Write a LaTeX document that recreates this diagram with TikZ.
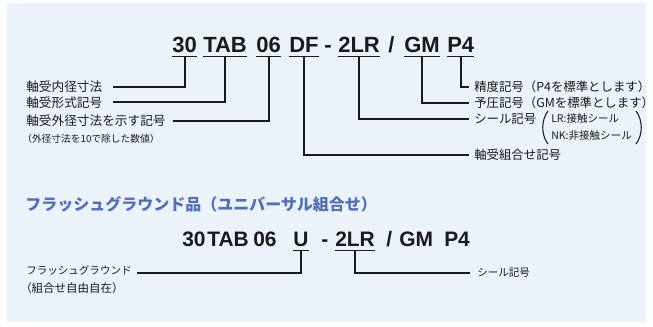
\documentclass[tikz,border=0pt]{standalone}
\usepackage{fontspec}
\setmainfont{Noto Sans CJK JP}
\newfontfamily\codefont{Liberation Sans}
\definecolor{bgc}{HTML}{EBF2FA}
\definecolor{titc}{HTML}{5470B4}
\definecolor{txt}{HTML}{1A1A1A}
\begin{document}
\begin{tikzpicture}[x=0.75pt,y=-0.75pt,
  codetok/.style={font=\codefont\bfseries\fontsize{16.5}{18}\selectfont, inner sep=0pt, anchor=base west, text=txt},
  codetokb/.style={font=\codefont\bfseries\fontsize{15.7}{18}\selectfont, inner sep=0pt, anchor=base west, text=txt},
  labtxt/.style={font=\fontsize{9.5}{11}\selectfont, inner sep=0pt, anchor=west, text=txt},
  rlabtxt/.style={font=\fontsize{9.3}{11}\selectfont, inner sep=0pt, anchor=west, text=txt},
  notetxt/.style={font=\fontsize{7.3}{8}\selectfont, inner sep=0pt, anchor=west, text=txt},
  smalltxt/.style={font=\fontsize{7.9}{9}\selectfont, inner sep=0pt, anchor=west, text=txt},
  smalltxtb/.style={font=\fontsize{8.6}{10}\selectfont, inner sep=0pt, anchor=west, text=txt},
  sealtxt/.style={font=\fontsize{7.9}{9}\selectfont, inner sep=0pt, anchor=west, text=txt},
  titletxt/.style={font=\bfseries\fontsize{12}{13}\selectfont, inner sep=0pt, anchor=west, text=titc},
  ulinestyle/.style={line width=1.1pt, draw=txt},
  connline/.style={line width=1.5pt, draw=txt},
  parenline/.style={line width=0.8pt, draw=txt}]
\useasboundingbox (0,0) rectangle (653,327);
\fill[bgc] (7,3) rectangle (646,322);

% ---------- first code line ----------
\node[codetok] (c30)  at (172,52.5) {30};
\node[codetok] (cTAB) at (203,52.5) {TAB};
\node[codetok] (c06)  at (256,52.5) {06};
\node[codetok] (cDF)  at (289,52.5) {DF};
\node[codetok] (cdash) at (324,52.5) {-};
\node[codetok] (c2LR) at (338,52.5) {2LR};
\node[codetok] (cslash) at (388,52.5) {/};
\node[codetok] (cGM)  at (404,52.5) {GM};
\node[codetok] (cP4)  at (447,52.5) {P4};

\coordinate (ula) at (0,56.5);
\foreach \n in {c30,cTAB,c06,cDF,c2LR,cGM,cP4}
  \draw[ulinestyle] (\n.west |- ula) -- (\n.east |- ula);

% labels left
\node[labtxt] (l1) at (26,87) {軸受内径寸法};
\node[labtxt] (l2) at (26,102.5) {軸受形式記号};
\node[labtxt] (l3) at (26,121) {軸受外径寸法を示す記号};
\node[notetxt] (l3n) at (22,139) {（外径寸法を10で除した数値）};

% labels right
\node[rlabtxt] (r1) at (474,87) {精度記号（P4を標準とします）};
\node[rlabtxt] (r2) at (474,103) {予圧記号（GMを標準とします）};
\node[rlabtxt] (r3) at (474,119) {シール記号};
\node[sealtxt] (r3a) at (551,119) {LR:接触シール};
\node[sealtxt] (r3b) at (551,136) {NK:非接触シール};
\node[rlabtxt] (r4) at (474,155) {軸受組合せ記号};

\draw[parenline] (548,111) .. controls (541,120) and (541,135) .. (548,144);
\draw[parenline] (636,111) .. controls (643,120) and (643,135) .. (636,144);

\coordinate (e1) at (113,87);
\coordinate (e2) at (113,102.5);
\coordinate (e3) at (173,121);
\coordinate (e4) at (469,155);
\coordinate (e5) at (469,119);
\coordinate (e6) at (469,103);
\coordinate (e7) at (469,87);

\draw[connline] (c30.south |- ula) |- (e1);
\draw[connline] (cTAB.south |- ula) |- (e2);
\draw[connline] (c06.south |- ula) |- (e3);
\draw[connline] (cDF.south |- ula) |- (e4);
\draw[connline] (c2LR.south |- ula) |- (e5);
\draw[connline] (cGM.south |- ula) |- (e6);
\draw[connline] (cP4.south |- ula) |- (e7);

% ---------- flush ground ----------
\node[titletxt] (tit) at (25,204) {フラッシュグラウンド品（ユニバーサル組合せ）};

\node[codetokb] (u30)  at (182,246.5) {30};
\node[codetokb] (uTAB) at (207,246.5) {TAB};
\node[codetokb] (u06)  at (253,246.5) {06};
\node[codetokb] (uU)   at (293,246.5) {U};
\node[codetokb] (udash) at (321,246.5) {-};
\node[codetokb] (u2LR) at (335,246.5) {2LR};
\node[codetokb] (uslash) at (386,246.5) {/};
\node[codetokb] (uGM)  at (399,246.5) {GM};
\node[codetokb] (uP4)  at (444,246.5) {P4};

\coordinate (ulb) at (0,250.5);
\foreach \n in {uU,u2LR}
  \draw[ulinestyle] (\n.west |- ulb) -- (\n.east |- ulb);

\node[smalltxt] (fl1) at (26,270) {フラッシュグラウンド};
\node[smalltxtb] (fl2) at (20,288) {（組合せ自由自在）};
\node[smalltxt] (fr1) at (477,273) {シール記号};

\coordinate (e8) at (137,273);
\coordinate (e9) at (470,273);
\draw[connline] (uU.south |- ulb) |- (e8);
\draw[connline] (u2LR.south |- ulb) |- (e9);
\end{tikzpicture}
\end{document}
